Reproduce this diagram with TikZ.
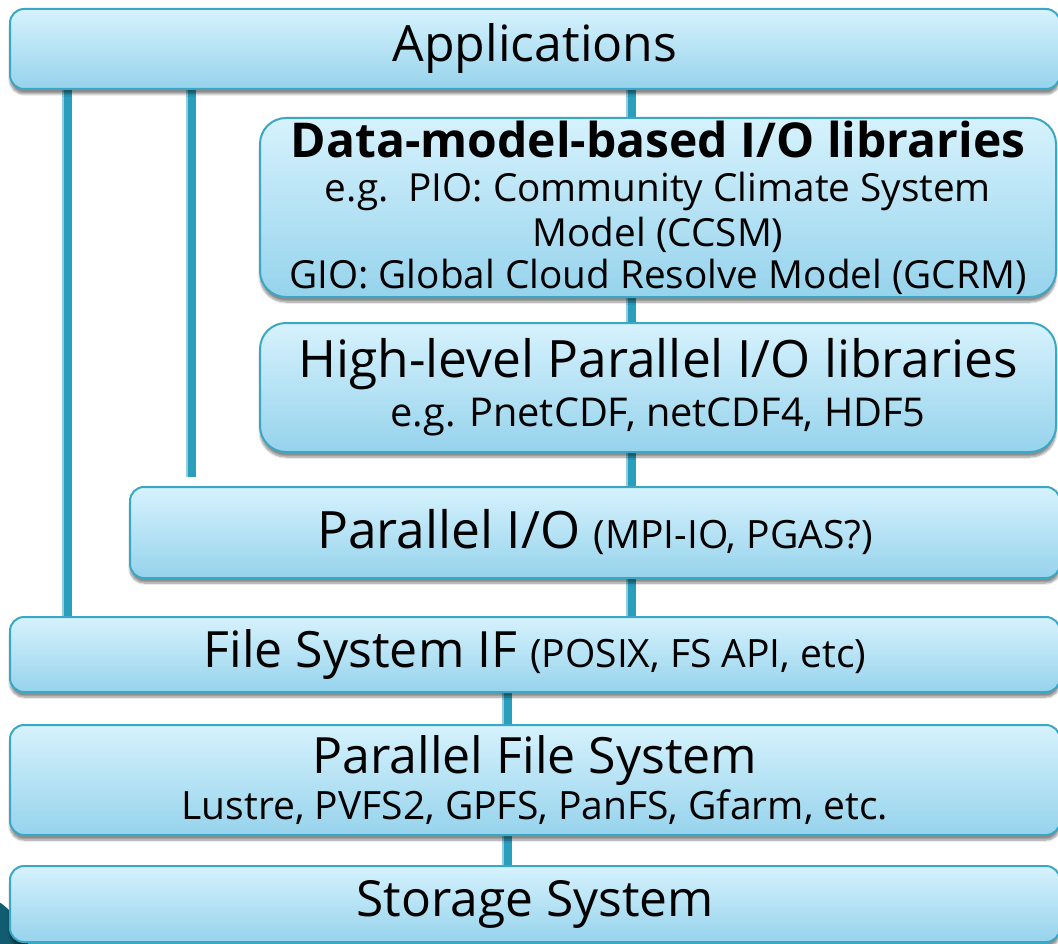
\documentclass[tikz,border=0pt]{standalone}
\usepackage{fontspec}
\setmainfont{Open Sans}
\usepackage{tikz}
\usetikzlibrary{backgrounds,shadows.blur}

\definecolor{layertop}{RGB}{214,242,253}
\definecolor{layerbot}{RGB}{150,211,236}
\definecolor{layerline}{RGB}{58,167,196}
\definecolor{linkteal}{RGB}{42,159,189}
\definecolor{linkpale}{RGB}{150,205,222}
\definecolor{cornerteal}{RGB}{18,92,112}

\newcommand{\fsz}[1]{\fontsize{#1}{1.2\dimexpr#1pt\relax}\selectfont}

\begin{document}
\begin{tikzpicture}[
  x=1pt, y=-1pt,
  layer/.style={draw=layerline, line width=2pt, rounded corners=14pt,
    top color=layertop, bottom color=layerbot, align=center, inner sep=0pt,
    blur shadow={shadow xshift=0pt, shadow yshift=-5pt, shadow blur steps=8, shadow opacity=45}},
  biglayer/.style={layer, rounded corners=26pt},
  link/.style={draw=linkteal, line width=8pt},
  linkedge/.style={draw=linkpale, line width=2pt, transform canvas={xshift=-5pt}}
]
\useasboundingbox (0,0) rectangle (1058,944);
\fill[cornerteal] (-40,960) circle (70);

\node[layer, minimum width=1050, minimum height=80] (app) at (535,49)
  {\fsz{50}Applications};
\node[biglayer, minimum width=796, minimum height=179] (dml) at (658,207.5)
  {\fsz{48}\bfseries Data-model-based I/O libraries\\[14pt]
   \fsz{38.7}e.g.\ \ PIO: Community Climate System\\[5pt]
   \fsz{38.7}Model (CCSM)\\[5pt]
   \fsz{38.7}GIO: Global Cloud Resolve Model (GCRM)};
\node[biglayer, minimum width=796, minimum height=129] (hlp) at (658,387.5)
  {\fsz{51.5}High-level Parallel I/O libraries\\[7pt]
   \fsz{39.7}e.g. PnetCDF, netCDF4, HDF5};
\node[layer, minimum width=930, minimum height=91] (pio) at (595,532.5)
  {\fsz{51.5}Parallel I/O {\fsz{39}(MPI-IO, PGAS?)}};
\node[layer, minimum width=1050, minimum height=75] (fsif) at (535,654.5)
  {\fsz{50}File System IF {\fsz{39}(POSIX, FS API, etc)}};
\node[layer, minimum width=1050, minimum height=110] (pfs) at (535,780)
  {\fsz{50}Parallel File System\\[4pt]
   \fsz{39}Lustre, PVFS2, GPFS, PanFS, Gfarm, etc.};
\node[layer, minimum width=1050, minimum height=76] (sto) at (535,904)
  {\fsz{49.7}Storage System};

% vertical links sit behind the layers
\coordinate (left) at (68,0);
\coordinate (mid) at (192,0);
\coordinate (core) at (632,0);
\coordinate (low) at (508,0);
\begin{scope}[on background layer]
  \foreach \a/\b/\c/\gap in {app/fsif/left/0, app/pio/mid/9, app/fsif/core/0, fsif/pfs/low/0, pfs/sto/low/0} {
    \draw[linkedge, shorten >=\gap pt] (\a.south -| \c) -- (\b.north -| \c);
    \draw[link, shorten >=\gap pt] (\a.south -| \c) -- (\b.north -| \c);
  }
\end{scope}
\end{tikzpicture}
\end{document}
